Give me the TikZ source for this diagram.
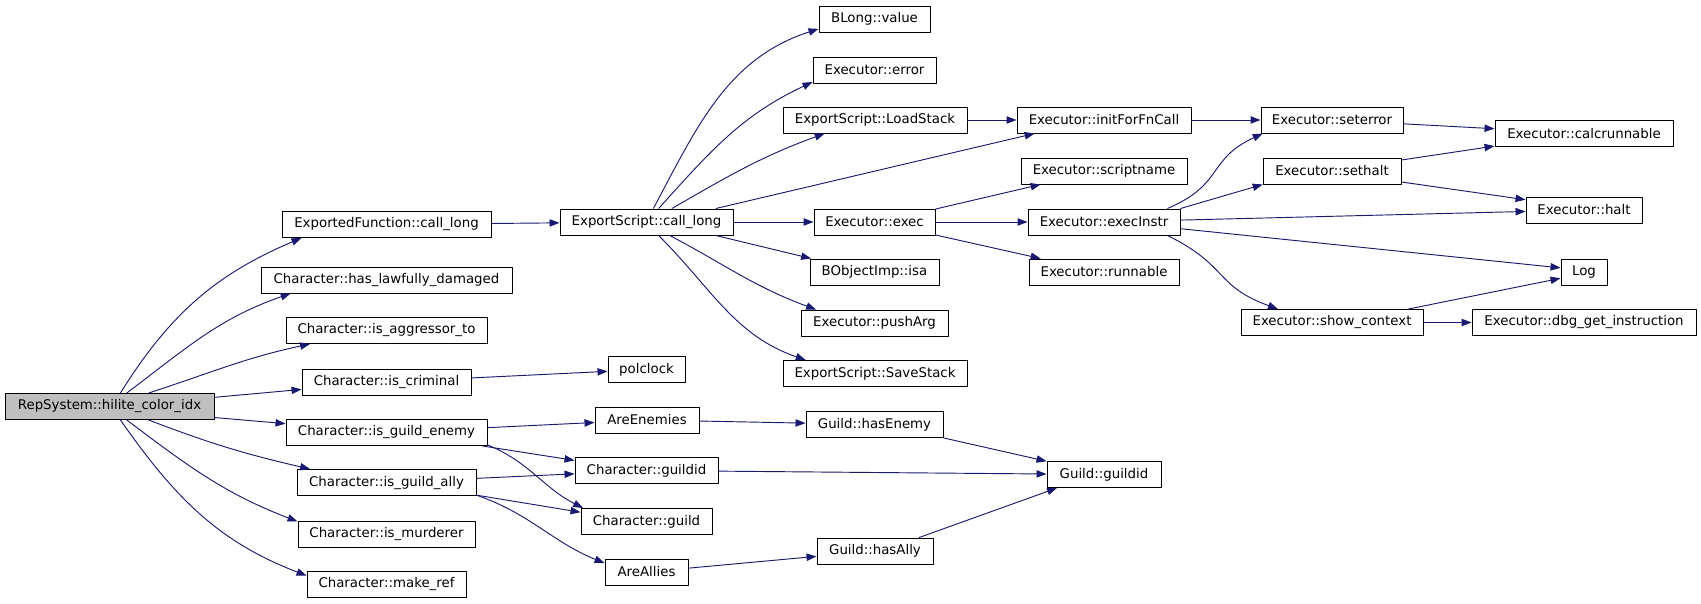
\documentclass[tikz,border=0pt]{standalone}
\usepackage{fontspec}
\setmainfont{DejaVu Sans}
\usetikzlibrary{arrows.meta}
\definecolor{edgeblue}{RGB}{25,25,112}
\definecolor{rootgray}{RGB}{191,191,191}
\begin{document}
\begin{tikzpicture}[x=0.75pt, y=0.75pt, font=\fontsize{10}{12}\selectfont, line join=round,
		fn/.style={draw=black, line width=0.7pt, fill=white, inner xsep=0pt, inner ysep=0pt, minimum height=19.5pt},
		wd/.style={minimum width=#1*0.75pt},
		call/.style={draw=edgeblue, line width=0.7pt, -{Triangle[length=7.5pt,width=5.5pt]}}]
		\path[fill=white, use as bounding box] (0,0) rectangle (1701,-603);
		\node[fn, wd=209, fill=rootgray] (rep) at (109.5,-406.5) {RepSystem::hilite\_color\_idx};
		\node[fn, wd=209] (efcl) at (386.5,-224.5) {ExportedFunction::call\_long};
		\node[fn, wd=251] (hld) at (386.5,-280) {Character::has\_lawfully\_damaged};
		\node[fn, wd=201] (aggr) at (386.5,-330.5) {Character::is\_aggressor\_to};
		\node[fn, wd=169] (crim) at (386.5,-382) {Character::is\_criminal};
		\node[fn, wd=201] (genemy) at (386.5,-432.5) {Character::is\_guild\_enemy};
		\node[fn, wd=179] (gally) at (386.5,-482.5) {Character::is\_guild\_ally};
		\node[fn, wd=177] (murd) at (386.5,-534) {Character::is\_murderer};
		\node[fn, wd=159] (mref) at (386.5,-584) {Character::make\_ref};
		\node[fn, wd=173] (escl) at (646.5,-222) {ExportScript::call\_long};
		\node[fn, wd=77] (polclk) at (646.5,-369.5) {polclock};
		\node[fn, wd=104] (areen) at (647,-420) {AreEnemies};
		\node[fn, wd=143] (cgid) at (646.5,-470.5) {Character::guildid};
		\node[fn, wd=131] (cguild) at (646.5,-521.5) {Character::guild};
		\node[fn, wd=83] (areal) at (646.5,-572) {AreAllies};
		\node[fn, wd=111] (blong) at (874.5,-19) {BLong::value};
		\node[fn, wd=123] (xerr) at (874.5,-70) {Executor::error};
		\node[fn, wd=184] (load) at (875,-120) {ExportScript::LoadStack};
		\node[fn, wd=121] (xexec) at (874.5,-222) {Executor::exec};
		\node[fn, wd=129] (isa) at (874.5,-272) {BObjectImp::isa};
		\node[fn, wd=147] (push) at (874.5,-323) {Executor::pushArg};
		\node[fn, wd=184] (save) at (875,-373.5) {ExportScript::SaveStack};
		\node[fn, wd=137] (hasen) at (874.5,-424.5) {Guild::hasEnemy};
		\node[fn, wd=116] (hasal) at (875,-551) {Guild::hasAlly};
		\node[fn, wd=174] (init) at (1104,-120) {Executor::initForFnCall};
		\node[fn, wd=166] (sname) at (1104,-171) {Executor::scriptname};
		\node[fn, wd=152] (xinstr) at (1104,-222) {Executor::execInstr};
		\node[fn, wd=150] (runn) at (1104,-272) {Executor::runnable};
		\node[fn, wd=114] (ggid) at (1104,-474.5) {Guild::guildid};
		\node[fn, wd=142] (seterr) at (1332,-120) {Executor::seterror};
		\node[fn, wd=138] (sethalt) at (1332,-171) {Executor::sethalt};
		\node[fn, wd=182] (showctx) at (1332,-322.5) {Executor::show\_context};
		\node[fn, wd=178] (calcr) at (1584,-133.5) {Executor::calcrunnable};
		\node[fn, wd=116] (halt) at (1584,-210) {Executor::halt};
		\node[fn, wd=46] (log) at (1584,-272) {Log};
		\node[fn, wd=224] (dbg) at (1584,-322.5) {Executor::dbg\_get\_instruction};
		\draw[call] (rep.51) to[out=58,in=203] (efcl.189);
		\draw[call] (rep.38) to[out=37,in=199] (hld.188);
		\draw[call] (rep.19) to[out=18,in=192] (aggr.190);
		\draw[call] (rep.5) -- (crim.185);
		\draw[call] (rep.-6) -- (genemy.175);
		\draw[call] (rep.-19) to[out=-21,in=167] (gally.170);
		\draw[call] (rep.-38) to[out=-37,in=159] (murd.172);
		\draw[call] (rep.-51) to[out=-55,in=159] (mref.174);
		\draw[call] (efcl) -- (escl);
		\draw[call] (crim) -- (polclk);
		\draw[call] (genemy) -- (areen);
		\draw[call] (genemy.-8) -- (cgid.172);
		\draw[call] (genemy.-7.7) to[out=-22,in=153] (cguild.168);
		\draw[call] (gally) -- (cgid);
		\draw[call] (gally.-8) -- (cguild.172.6);
		\draw[call] (gally.-8.5) to[out=-19,in=158] (areal.168);
		\draw[call] (escl.63) to[out=62,in=198] (blong.190);
		\draw[call] (escl.48) to[out=48,in=205] (xerr.191);
		\draw[call] (escl.28) to[out=30,in=200] (load.195);
		\draw[call] (escl.11.6) -- (init.191.5);
		\draw[call] (escl) -- (xexec);
		\draw[call] (escl.-11.6) -- (isa.168);
		\draw[call] (escl.-30) to[out=-28,in=160] (push.167);
		\draw[call] (escl.-48) to[out=-45,in=161] (save.169);
		\draw[call] (areen) -- (hasen);
		\draw[call] (cgid) -- (ggid);
		\draw[call] (areal) -- (hasal);
		\draw[call] (load) -- (init);
		\draw[call] (xexec.12) -- (sname.192);
		\draw[call] (xexec) -- (xinstr);
		\draw[call] (xexec.-12) -- (runn.168);
		\draw[call] (hasen.-11) -- (ggid.167);
		\draw[call] (hasal.17) -- (ggid.196);
		\draw[call] (init) -- (seterr);
		\draw[call] (xinstr.12) to[out=23,in=205,looseness=1.3] (seterr.191);
		\draw[call] (xinstr.10) -- (sethalt.191);
		\draw[call] (xinstr) -- (halt);
		\draw[call] (xinstr.-5.3) -- (log.170);
		\draw[call] (xinstr.-12) to[out=-26,in=160,looseness=1.3] (showctx.166);
		\draw[call] (seterr) -- (calcr);
		\draw[call] (sethalt.9) -- (calcr.188);
		\draw[call] (sethalt.-9) -- (halt.170);
		\draw[call] (showctx.10.7) -- (log.195);
		\draw[call] (showctx) -- (dbg);
	\end{tikzpicture}
\end{document}
